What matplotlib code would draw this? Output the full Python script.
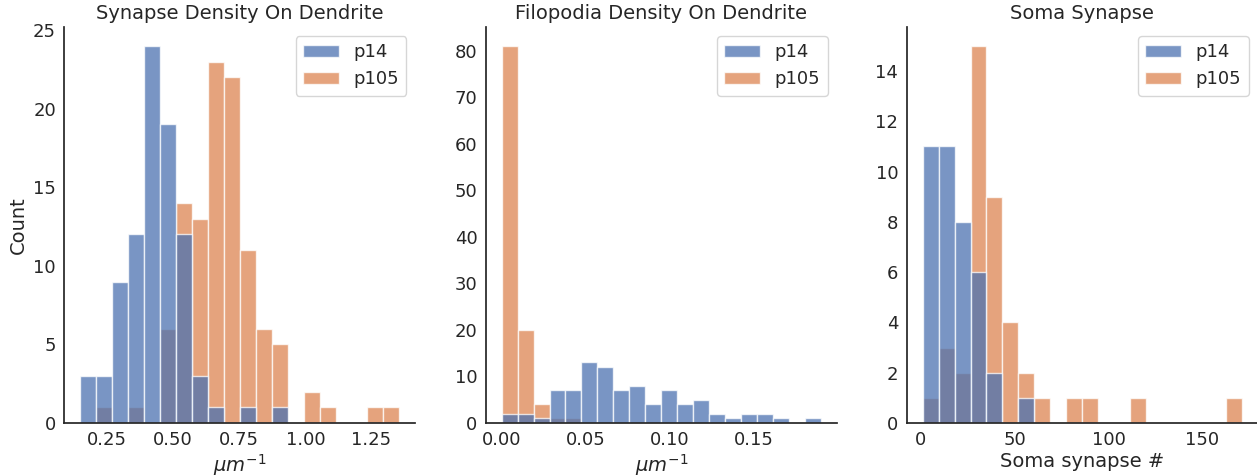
import numpy as np
import matplotlib
matplotlib.use("Agg")
import matplotlib.pyplot as plt
import seaborn as sns

# histogram counts (20 bins per panel)
groups = ["p14", "p105"]

syn_range = (0.15, 1.355)
syn_p14 = [3, 3, 9, 12, 24, 19, 12, 3, 1, 0, 1, 0, 1, 0, 0, 0, 0, 0, 0, 0]
syn_p105 = [0, 1, 0, 1, 0, 6, 14, 13, 23, 22, 11, 6, 5, 0, 2, 1, 0, 0, 1, 1]

filo_range = (0.0, 0.19)
filo_p14 = [2, 2, 1, 7, 7, 13, 12, 7, 8, 4, 7, 4, 5, 2, 1, 2, 2, 1, 0, 1]
filo_p105 = [81, 20, 4, 1, 1, 0, 0, 0, 0, 0, 0, 0, 0, 0, 0, 0, 0, 0, 0, 0]

soma_range = (1.0, 171.0)
soma_p14 = [11, 11, 8, 6, 2, 0, 1, 0, 0, 0, 0, 0, 0, 0, 0, 0, 0, 0, 0, 0]
soma_p105 = [1, 3, 2, 15, 9, 4, 2, 1, 0, 1, 1, 0, 0, 1, 0, 0, 0, 0, 0, 1]

titles = ["Synapse Density On Dendrite", "Filopodia Density On Dendrite", "Soma Synapse"]
xlabels = [r"$\mu m^{-1}$", r"$\mu m^{-1}$", "Soma synapse #"]

sns.set_theme(style="white")
plt.rcParams['font.family'] = ['DejaVu Sans']
colors = sns.color_palette("deep")[:2]
text_col = "#262626"

fig = plt.figure(figsize=(12.57, 4.76), dpi=100)
W, H = 1257.0, 476.0
lefts = [64.3, 485.7, 906.7]
aw = 351.0
top, bottom = 27.0, 423.0

panels = [
    (syn_range, syn_p14, syn_p105),
    (filo_range, filo_p14, filo_p105),
    (soma_range, soma_p14, soma_p105),
]

for i, (rng, c14, c105) in enumerate(panels):
    ax = fig.add_axes([lefts[i] / W, 1 - bottom / H, aw / W, (bottom - top) / H])
    edges = np.linspace(rng[0], rng[1], len(c14) + 1)
    # p105 first so p14 sits on top, like seaborn's layered hue
    for counts, col, lab in [(c105, colors[1], groups[1]), (c14, colors[0], groups[0])]:
        ax.hist(edges[:-1], bins=edges, weights=counts, color=col, alpha=0.75,
                edgecolor="white", linewidth=1.0, label=lab)
    ax.margins(x=0.05, y=0.05)
    ax.set_ylim(bottom=0)
    ax.set_title(titles[i], fontsize=14, color=text_col)
    ax.set_xlabel(xlabels[i], fontsize=14, color=text_col, labelpad=2)
    if i == 0:
        ax.set_ylabel("Count", fontsize=14, color=text_col)
    ax.tick_params(labelsize=13, colors=text_col, length=0, pad=6)
    for s in ["top", "right"]:
        ax.spines[s].set_visible(False)
    for s in ["left", "bottom"]:
        ax.spines[s].set_color(text_col)
        ax.spines[s].set_linewidth(1.25)
    handles, labels = ax.get_legend_handles_labels()
    ax.legend(handles[::-1], labels[::-1], loc="upper right", fontsize=13,
              labelcolor=text_col)

fig.savefig("out.png", dpi=100)
